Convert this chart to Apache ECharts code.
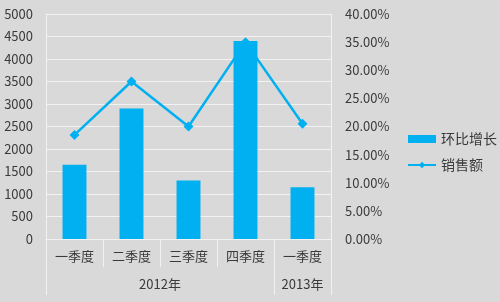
<!DOCTYPE html>
<html><head><meta charset="utf-8">
<script src="https://cdn.jsdelivr.net/npm/echarts@6/dist/echarts.min.js"></script>
<style>html,body{margin:0;padding:0;background:#d9d9d9}#c{width:500px;height:302px}</style>
</head><body><div id="c"></div>
<script>
var categories = ['一季度','二季度','三季度','四季度','一季度'];
var years = ['2012年','2013年'];
var yearSpans = [4,1];
var barName = '环比增长';
var lineName = '销售额';
var barValues = [1650, 2900, 1300, 4400, 1150];
var lineValues = [0.185, 0.28, 0.20, 0.35, 0.205];
var leftTicks = [0, 5000, 500];
var rightTicks = [0, 0.40, 0.05];

var font = '"Noto Sans CJK SC", sans-serif';
var txt = '#3a3a3a';
var grid = '#f2f2f2';
var blue = '#00B0F0';

var bounds = [0], centers = [], acc = 0;
yearSpans.forEach(function(s){ centers.push(acc + s/2); acc += s; bounds.push(acc); });

var chart = echarts.init(document.getElementById('c'), null, {renderer:'canvas'});
chart.setOption({
  backgroundColor: '#d9d9d9',
  animation: false,
  textStyle: {fontFamily: font, color: txt},
  grid: {left: 46, right: 169, top: 14, bottom: 63},
  legend: {
    orient: 'vertical', left: 402, top: 127, itemGap: 12,
    itemWidth: 28, itemHeight: 8,
    textStyle: {fontFamily: font, fontSize: 14, color: txt},
    data: [{name: barName, icon: 'rect'}, {name: lineName}]
  },
  xAxis: [{
    type: 'category', data: categories, boundaryGap: true,
    axisLine: {show: true, lineStyle: {color: grid, width: 1}},
    axisTick: {show: true, length: 28, lineStyle: {color: grid}},
    axisLabel: {fontFamily: font, fontSize: 13, color: txt, margin: 11},
    splitLine: {show: false}
  }, {
    type: 'value', min: 0, max: categories.length, position: 'bottom',
    axisLine: {show: false},
    axisTick: {show: true, length: 56, customValues: bounds, lineStyle: {color: grid}},
    axisLabel: {fontFamily: font, fontSize: 13, color: txt, margin: 39,
      customValues: centers,
      formatter: function(v){ var i = centers.indexOf(v); return i >= 0 ? years[i] : ''; }},
    splitLine: {show: false}
  }],
  yAxis: [{
    type: 'value', min: leftTicks[0], max: leftTicks[1], interval: leftTicks[2],
    axisLine: {show: true, lineStyle: {color: grid}},
    axisTick: {show: false},
    axisLabel: {fontFamily: font, fontSize: 13, color: txt, margin: 13,
      formatter: function(v){ return String(v); }},
    splitLine: {lineStyle: {color: grid, width: 1}}
  }, {
    type: 'value', min: rightTicks[0], max: rightTicks[1], interval: rightTicks[2],
    axisLine: {show: true, lineStyle: {color: grid}},
    axisTick: {show: false},
    axisLabel: {fontFamily: font, fontSize: 13, color: txt, margin: 14,
      formatter: function(v){ return (v*100).toFixed(2) + '%'; }},
    splitLine: {show: false}
  }],
  series: [{
    name: barName, type: 'bar', data: barValues, xAxisIndex: 0, yAxisIndex: 0,
    barWidth: '42%', itemStyle: {color: blue}
  }, {
    name: lineName, type: 'line', data: lineValues, xAxisIndex: 0, yAxisIndex: 1,
    symbol: 'diamond', symbolSize: 10,
    lineStyle: {color: blue, width: 2.5}, itemStyle: {color: blue}
  }]
});
</script></body></html>
